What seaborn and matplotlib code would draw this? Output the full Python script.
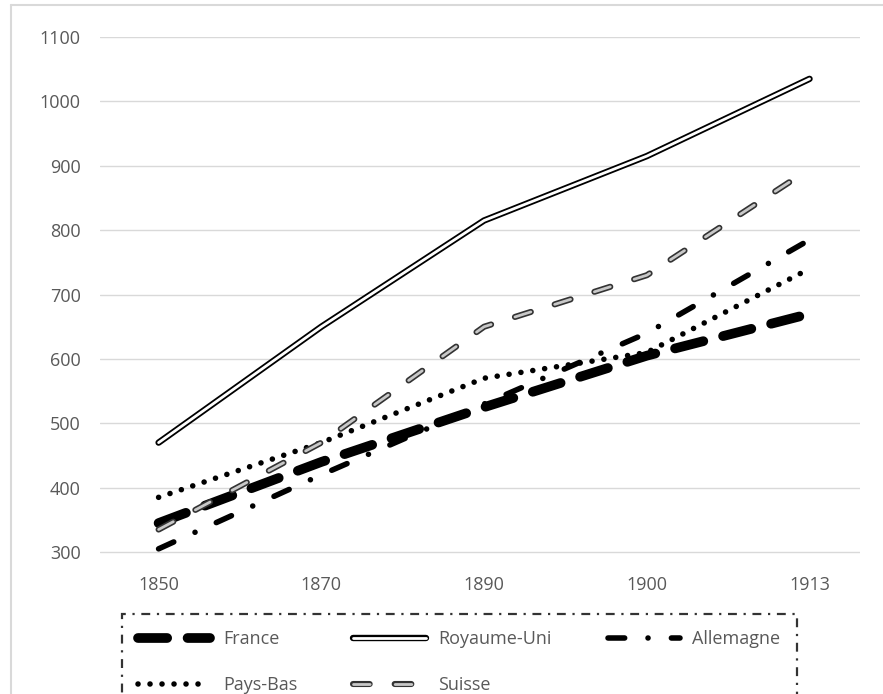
import seaborn as sns
import pandas as pd
import matplotlib.pyplot as plt
import matplotlib.patheffects as pe
from matplotlib.lines import Line2D

years = ["1850", "1870", "1890", "1900", "1913"]
france = [345, 440, 525, 605, 670]
royaume_uni = [470, 650, 815, 915, 1035]
allemagne = [305, 420, 530, 640, 785]
pays_bas = [385, 470, 570, 610, 740]
suisse = [335, 470, 650, 730, 895]

df = pd.DataFrame({"annee": years, "France": france, "Royaume-Uni": royaume_uni,
                   "Allemagne": allemagne, "Pays-Bas": pays_bas, "Suisse": suisse})

sns.set_theme(style="white")
plt.rcParams['font.family'] = ['Open Sans', 'DejaVu Sans']

fig = plt.figure(figsize=(8.83, 6.94), dpi=100)
ax = fig.add_axes([100 / 883, 1 - 554 / 694, 760 / 883, 517 / 694])

# cadre gris clair de la zone du graphique
fig.add_artist(Line2D([11 / 883, 11 / 883], [0, 1 - 5 / 694], color="#d9d9d9", lw=1.5))
fig.add_artist(Line2D([11 / 883, 1], [1 - 5 / 694, 1 - 5 / 694], color="#d9d9d9", lw=1.5))

# France
sns.lineplot(data=df, x="annee", y="France", ax=ax, color="black", lw=7,
             label="France", sort=False)
l = ax.lines[-1]
l.set_dashes((3.0, 2.1))
l.set_dash_capstyle('round')

# Royaume-Uni : double trait
sns.lineplot(data=df, x="annee", y="Royaume-Uni", ax=ax, color="white", lw=2,
             label="Royaume-Uni", sort=False)
l = ax.lines[-1]
l.set_path_effects([pe.Stroke(linewidth=4.6, foreground="black"), pe.Normal()])
l.set_solid_capstyle('round')

# Allemagne
sns.lineplot(data=df, x="annee", y="Allemagne", ax=ax, color="black", lw=4,
             label="Allemagne", sort=False)
l = ax.lines[-1]
l.set_dashes((3.0, 4.2, 0.01, 4.2))
l.set_dash_capstyle('round')

# Pays-Bas
sns.lineplot(data=df, x="annee", y="Pays-Bas", ax=ax, color="black", lw=4,
             label="Pays-Bas", sort=False)
l = ax.lines[-1]
l.set_dashes((0.01, 2.15))
l.set_dash_capstyle('round')

# Suisse : tirets gris cernés
sns.lineplot(data=df, x="annee", y="Suisse", ax=ax, color="#c8c8c8", lw=2,
             label="Suisse", sort=False)
l = ax.lines[-1]
l.set_dashes((6, 9))
l.set_dash_capstyle('round')
l.set_path_effects([pe.Stroke(linewidth=4.4, foreground="#333333"), pe.Normal()])

ax.set_xlim(-0.36, 4.31)
ax.set_ylim(297, 1100)
ax.set_yticks(range(300, 1101, 100))
ax.yaxis.grid(True, color="#d9d9d9", lw=1)
ax.xaxis.grid(False)
for s in ax.spines.values():
    s.set_visible(False)
ax.set_xlabel("")
ax.set_ylabel("")
ax.tick_params(axis="x", colors="#595959", labelsize=13, pad=16, length=0)
ax.tick_params(axis="y", colors="#595959", labelsize=13, pad=14, length=0)

handles, labels = ax.get_legend_handles_labels()
ax.get_legend().remove()
order = [0, 3, 1, 4, 2]
leg = fig.legend([handles[i] for i in order], [labels[i] for i in order],
                 loc="upper left", bbox_to_anchor=(122 / 883, 1 - 614 / 694),
                 ncol=3, frameon=True, fancybox=False, fontsize=13,
                 labelcolor="#595959", handlelength=4.0, columnspacing=3.1,
                 labelspacing=1.55, borderpad=0.9, handletextpad=0.7,
                 borderaxespad=0)
fr = leg.get_frame()
fr.set_edgecolor("black")
fr.set_linestyle((0, (4, 3, 1, 3)))
fr.set_linewidth(1.6)

plt.savefig("out.png", dpi=100)
